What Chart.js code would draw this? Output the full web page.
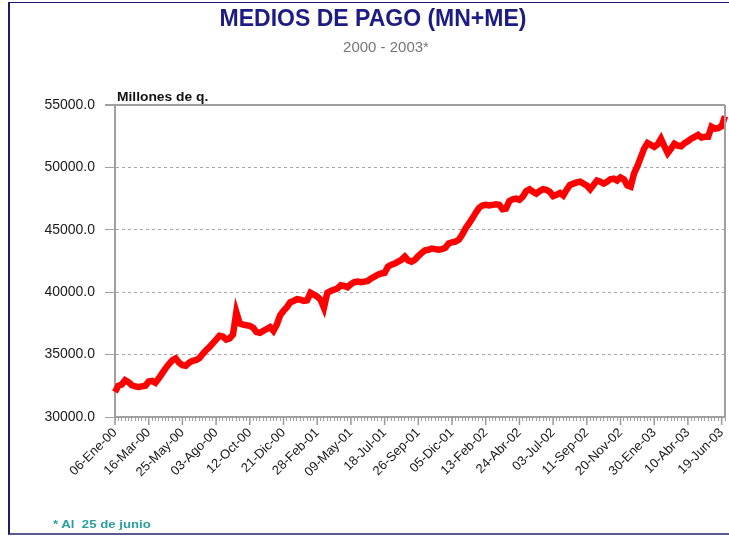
<!DOCTYPE html>
<html><head><meta charset="utf-8">
<script src="https://cdn.jsdelivr.net/npm/chart.js@4/dist/chart.umd.min.js"></script>
<style>
html,body{margin:0;padding:0;background:#fff;width:729px;height:537px;overflow:hidden;}
#wrap{position:relative;width:729px;height:537px;}
#frame{position:absolute;left:8px;top:2px;width:740px;height:530px;border-left:2px solid #1a1a6e;border-top:1px solid #1a1a6e;border-bottom:2px solid #5a5a90;}
canvas{position:absolute;left:0;top:0;}
.t{position:absolute;font-family:"Liberation Sans",Arial,sans-serif;white-space:nowrap;}
#title{left:0;width:746px;text-align:center;top:5px;font-size:23px;font-weight:bold;color:#1c1c84;}
#sub{left:0;width:772px;text-align:center;top:38px;font-size:15px;color:#777;}
#unit{left:117px;top:90px;font-size:12px;font-weight:bold;color:#111;transform:scaleX(1.15);transform-origin:left top;}
#foot{left:53px;top:518px;font-size:11px;font-weight:bold;color:#2a9d9d;transform:scaleX(1.2);transform-origin:left top;}
</style></head>
<body><div id="wrap">
<div id="frame"></div>
<canvas id="c" width="729" height="537"></canvas>
<div class="t" id="title">MEDIOS DE PAGO (MN+ME)</div>
<div class="t" id="sub">2000 - 2003*</div>
<div class="t" id="unit">Millones de q.</div>
<div class="t" id="foot">* Al&nbsp; 25 de junio</div>
</div>
<script>
const tickLabels = ["06-Ene-00","16-Mar-00","25-May-00","03-Ago-00","12-Oct-00","21-Dic-00","28-Feb-01","09-May-01","18-Jul-01","26-Sep-01","05-Dic-01","13-Feb-02","24-Abr-02","03-Jul-02","11-Sep-02","20-Nov-02","30-Ene-03","10-Abr-03","19-Jun-03"];
const labelStep = 10;
const mediosDePago = [
32000,32500,32600,32950,32800,32550,32450,32400,32450,32500,
32850,32900,32750,33100,33500,33900,34250,34550,34700,34350,
34150,34100,34350,34500,34550,34700,35050,35350,35600,35900,
36200,36500,36450,36200,36300,36600,38400,37500,37400,37350,
37300,37150,36800,36750,36900,37050,37200,36900,37400,38150,
38500,38800,39200,39300,39450,39400,39300,39350,39950,39800,
39650,39400,38750,39950,40100,40200,40300,40550,40500,40400,
40650,40800,40850,40800,40850,40900,41100,41250,41400,41500,
41550,42050,42200,42300,42450,42600,42850,42550,42450,42600,
42900,43150,43350,43400,43500,43450,43400,43450,43550,43900,
44000,44050,44200,44600,45100,45500,45900,46350,46750,46950,
47000,46950,47000,47050,47000,46650,46700,47300,47450,47500,
47400,47650,48100,48250,48050,47900,48100,48250,48200,48050,
47700,47800,47950,47750,48200,48600,48700,48800,48850,48700,
48550,48250,48600,48950,48850,48700,48850,49050,49100,48950,
49200,49050,48550,48450,49500,50100,50800,51500,51950,51800,
51650,51850,52300,51700,51150,51500,51900,51750,51700,51950,
52100,52300,52450,52600,52400,52450,52450,53250,53100,53150,
53300,54100];
const yMin = 30000, yMax = 55000, yStep = 5000;

const categories = mediosDePago.map((_, i) => (i % labelStep === 0 && tickLabels[i / labelStep]) ? tickLabels[i / labelStep] : '');

const framePlugin = {
  id: 'frame',
  afterDraw(chart) {
    const {ctx, chartArea: a, scales: {x}} = chart;
    ctx.save();
    ctx.strokeStyle = '#a0a0a0';
    ctx.lineWidth = 2;
    ctx.beginPath();
    ctx.moveTo(a.right, a.top); ctx.lineTo(a.right, a.bottom);
    ctx.stroke();
    ctx.lineWidth = 1.5;
    ctx.strokeStyle = '#9a9a9a';
    for (let i = 0; i < categories.length; i += labelStep) {
      const px = x.getPixelForTick(i);
      ctx.beginPath(); ctx.moveTo(px, a.bottom); ctx.lineTo(px, a.bottom + 8); ctx.stroke();
    }
    ctx.restore();
  }
};

new Chart(document.getElementById('c'), {
  type: 'line',
  data: {
    labels: categories,
    datasets: [{
      data: mediosDePago,
      borderColor: '#ff0000',
      borderWidth: 6.5,
      pointRadius: 0,
      tension: 0,
      fill: false
    }]
  },
  options: {
    responsive: false,
    animation: false,
    layout: {padding: {top: 105, right: 4, left: 0, bottom: 0}},
    plugins: {legend: {display: false}, tooltip: {enabled: false}, title: {display: false}},
    scales: {
      x: {
        type: 'category',
        offset: false,
        afterFit(s) { s.height = 120; s.paddingRight = 0; s.paddingLeft = 0; },
        grid: {display: true, drawOnChartArea: false, tickLength: 4, color: '#a0a0a0', tickWidth: 1},
        border: {display: true, color: '#a0a0a0', width: 2},
        ticks: {autoSkip: false, maxRotation: 45, minRotation: 45, padding: 4,
          color: '#1a1a1a', font: {family: '"Liberation Sans", Arial, sans-serif', size: 13}}
      },
      y: {
        min: yMin, max: yMax,
        afterFit(s) { s.width = 115; },
        grid: {color: c => c.tick && c.tick.value === yMax ? '#a0a0a0' : '#a8a8a8',
               lineWidth: c => c.tick && c.tick.value === yMax ? 2 : 1,
               tickLength: 10, tickColor: '#a0a0a0'},
        border: {display: true, color: '#a0a0a0', width: 2,
                 dash: c => c.tick && c.tick.value === yMax ? [] : [3, 3]},
        ticks: {stepSize: yStep, padding: 10, color: '#1a1a1a',
          font: {family: '"Liberation Sans", Arial, sans-serif', size: 14},
          callback: v => Number(v).toFixed(1)}
      }
    }
  },
  plugins: [framePlugin]
});
</script>
</body></html>
